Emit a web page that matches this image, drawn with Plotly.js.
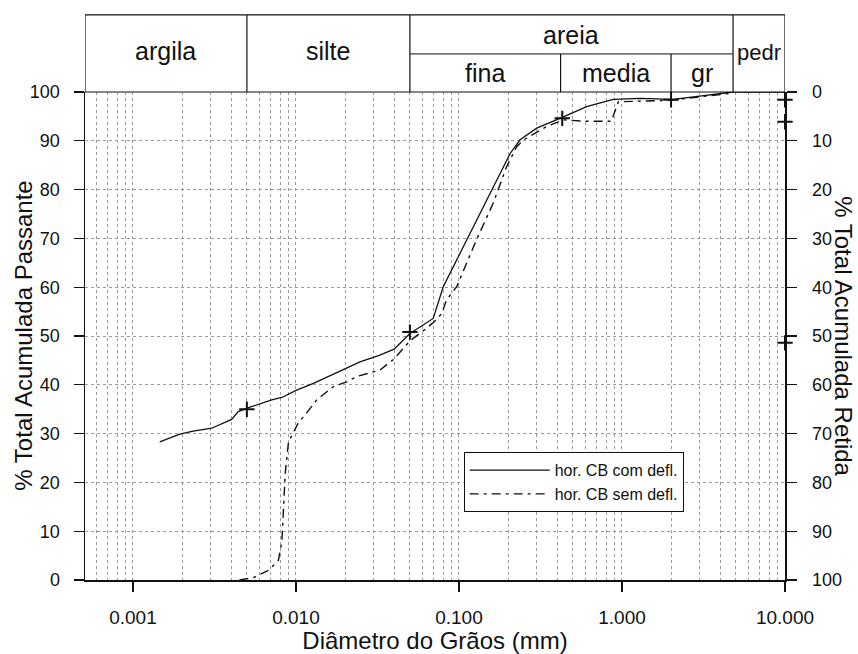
<!DOCTYPE html>
<html>
<head>
<meta charset="utf-8">
<script src="https://cdn.plot.ly/plotly-3.0.1.min.js"></script>
<style>html,body{margin:0;padding:0;background:#fff;}#chart{width:858px;height:654px;}</style>
</head>
<body>
<div id="chart"></div>
<script>
// ---- data ----
const sizeCom = [0.00146, 0.00194, 0.00234, 0.00304, 0.00403, 0.00443, 0.0050, 0.0071, 0.0082, 0.0101, 0.0128, 0.0205, 0.0247, 0.0327, 0.040, 0.050, 0.060, 0.0695, 0.0801, 0.1014, 0.1345, 0.170, 0.206, 0.237, 0.300, 0.437, 0.607, 0.885, 1.29, 2.06, 3.01, 4.19, 4.8, 10];
const passCom = [28.3, 29.9, 30.5, 31.1, 32.9, 34.5, 35.2, 36.9, 37.4, 38.9, 40.3, 43.4, 44.7, 46.1, 47.3, 50.5, 52.2, 53.6, 60.1, 66.9, 75.1, 82.0, 87.4, 90.2, 92.6, 94.9, 97.0, 98.5, 98.7, 98.5, 99.2, 99.9, 100, 100];

const sizeSem = [0.0045, 0.0055, 0.0068, 0.0078, 0.0082, 0.0084, 0.0086, 0.0090, 0.0096, 0.0103, 0.0116, 0.0134, 0.0169, 0.0205, 0.0236, 0.0327, 0.040, 0.050, 0.060, 0.070, 0.0783, 0.0839, 0.0968, 0.128, 0.162, 0.196, 0.226, 0.250, 0.344, 0.437, 0.60, 0.86, 0.95, 2.0, 3.0, 4.8];
const passSem = [0, 0.5, 2, 4, 8, 15, 22, 28.3, 30, 32.1, 34.2, 36.9, 39.6, 40.6, 41.7, 43.0, 45.3, 49.0, 51.0, 52.8, 54.6, 57.4, 60.1, 69.7, 77.2, 84.7, 88.8, 90.2, 92.9, 94.3, 94.0, 94.0, 98.0, 98.3, 99.0, 99.8];

const markSize = [0.005, 0.05, 0.43, 2.0, 10, 10, 10];
const markPass = [35, 50.8, 94.6, 98.4, 98.4, 93.9, 48.6];

const seriesNames = ['hor. CB com defl.', 'hor. CB sem defl.'];

const xTickVals = [0.001, 0.01, 0.1, 1, 10];
const xTickText = ['0.001', '0.010', '0.100', '1.000', '10.000'];
const yTickVals = [0, 10, 20, 30, 40, 50, 60, 70, 80, 90, 100];

// soil classes (ABNT) : boundaries in mm
const classBounds = [0.005, 0.05, 0.42, 2.0, 4.8];
const xMin = 0.000508, xMax = 10;

const FONT = 'Liberation Sans, Arial, sans-serif';
const L = Math.log10;

const traces = [
  {x: sizeCom, y: passCom, type: 'scatter', mode: 'lines', name: seriesNames[0],
   line: {color: '#111', width: 1.3}},
  {x: sizeSem, y: passSem, type: 'scatter', mode: 'lines', name: seriesNames[1],
   line: {color: '#111', width: 1.4, dash: '9px,5px,3px,5px'}},
  {x: markSize, y: markPass, type: 'scatter', mode: 'markers', showlegend: false, cliponaxis: false,
   marker: {symbol: 'cross-thin', size: 11, line: {color: '#111', width: 2}}},
  {x: [], y: [], yaxis: 'y2', type: 'scatter', showlegend: false, hoverinfo: 'skip'}
];

const gridCol = '#9a9a9a';
const top1 = 1.158, mid = 1.078;

// shapes on a log axis take data values in Plotly v3
const shapes = [
  {type: 'rect', xref: 'x', yref: 'paper', x0: xMin, x1: xMax, y0: 1, y1: top1,
   line: {color: '#111', width: 1.2}},
  {type: 'line', xref: 'x', yref: 'paper', x0: classBounds[1], x1: classBounds[4], y0: mid, y1: mid,
   line: {color: '#111', width: 1}}
];
classBounds.forEach((b, i) => {
  const y1 = (i === 2 || i === 3) ? mid : top1;
  shapes.push({type: 'line', xref: 'x', yref: 'paper', x0: b, x1: b, y0: 1, y1: y1,
    line: {color: '#111', width: 1.2}});
});

const hdr = (text, a, b, y, size) => ({text: text, xref: 'x', yref: 'paper', x: (L(a) + L(b)) / 2, y: y,
  showarrow: false, font: {family: FONT, size: size, color: '#111'}, xanchor: 'center', yanchor: 'middle'});

const annotations = [
  hdr('argila', xMin, classBounds[0], 1.084, 25),
  hdr('silte', classBounds[0], classBounds[1], 1.084, 25),
  hdr('areia', classBounds[1], classBounds[4], 1.116, 25),
  hdr('fina', classBounds[1], classBounds[2], 1.038, 25),
  hdr('media', classBounds[2], classBounds[3], 1.038, 25),
  hdr('gr', classBounds[3], classBounds[4], 1.038, 25),
  hdr('pedr', classBounds[4], xMax, 1.080, 22),
  {text: '% Total Acumulada Passante', xref: 'paper', yref: 'paper', x: -0.089, y: 0.5, textangle: -90,
   showarrow: false, font: {family: FONT, size: 24, color: '#111'}, xanchor: 'center', yanchor: 'middle'},
  {text: '% Total Acumulada Retida', xref: 'paper', yref: 'paper', x: 1.084, y: 0.5, textangle: 90,
   showarrow: false, font: {family: FONT, size: 24, color: '#111'}, xanchor: 'center', yanchor: 'middle'}
];

const layout = {
  width: 858, height: 654,
  margin: {l: 85, r: 73, t: 92, b: 74},
  paper_bgcolor: '#fff', plot_bgcolor: '#fff',
  font: {family: FONT, color: '#111', size: 18},
  showlegend: true,
  legend: {x: 0.541, y: 0.262, xanchor: 'left', yanchor: 'top', bgcolor: '#fff',
    bordercolor: '#111', borderwidth: 1, font: {family: FONT, size: 16, color: '#111'},
    itemwidth: 80, tracegroupgap: 4},
  xaxis: {type: 'log', range: [L(xMin), L(xMax)], tickmode: 'array', tickvals: xTickVals, ticktext: xTickText,
    ticks: 'outside', ticklen: 10, tickcolor: '#111', tickwidth: 1.3, ticklabelstandoff: 10,
    tickfont: {family: FONT, size: 19, color: '#111'},
    showline: true, linecolor: '#111', linewidth: 1.5,
    showgrid: true, gridcolor: gridCol, griddash: 'dot', gridwidth: 1,
    minor: {dtick: 'D1', showgrid: true, gridcolor: gridCol, griddash: 'dot', gridwidth: 1, ticks: ''},
    zeroline: false,
    title: {text: 'Diâmetro do Grãos (mm)', font: {family: FONT, size: 24, color: '#111'}, standoff: 6}},
  yaxis: {range: [0, 100], tickmode: 'array', tickvals: yTickVals, ticks: 'outside', ticklen: 10,
    tickcolor: '#111', tickwidth: 1.3, ticklabelstandoff: 10,
    tickfont: {family: FONT, size: 18, color: '#111'},
    showline: true, linecolor: '#111', linewidth: 1.5,
    showgrid: true, gridcolor: gridCol, griddash: 'dot', gridwidth: 1, zeroline: false},
  yaxis2: {overlaying: 'y', side: 'right', anchor: 'x', range: [100, 0], tickmode: 'array', tickvals: yTickVals,
    ticks: 'outside', ticklen: 10, tickcolor: '#111', tickwidth: 1.3, ticklabelstandoff: 12,
    tickfont: {family: FONT, size: 18, color: '#111'},
    showline: true, linecolor: '#111', linewidth: 1.5, showgrid: false, zeroline: false},
  shapes: shapes,
  annotations: annotations
};

Plotly.newPlot('chart', traces, layout, {displayModeBar: false, staticPlot: true});
</script>
</body>
</html>
